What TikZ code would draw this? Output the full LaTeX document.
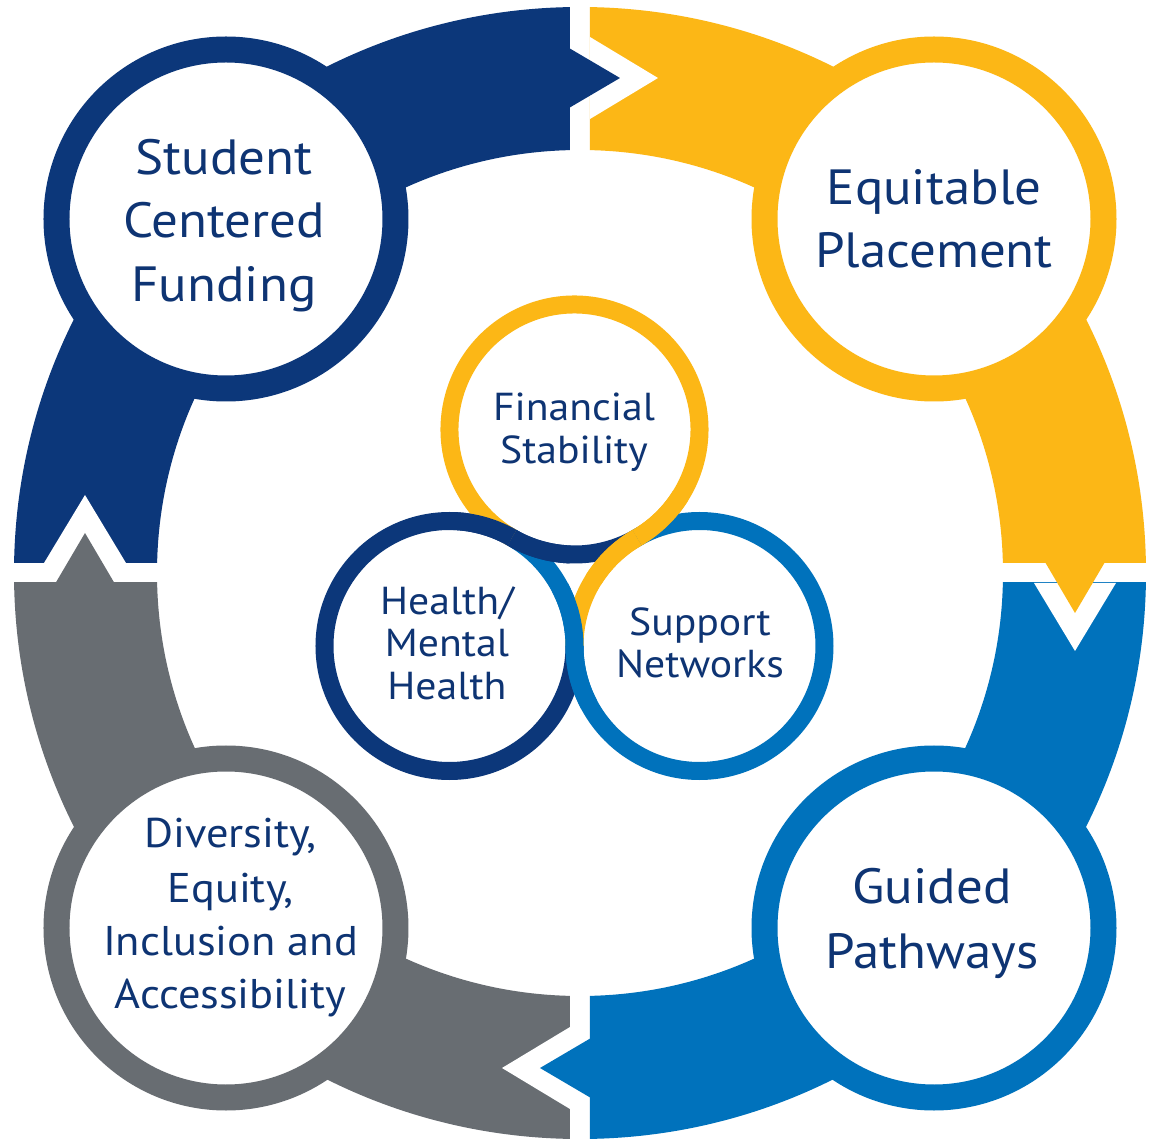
\documentclass[tikz,border=0pt]{standalone}
\usepackage{fontspec}
\setmainfont[FakeStretch=1.07]{PT Sans}
\definecolor{cnavy}{RGB}{12,55,122}
\definecolor{cyel}{RGB}{252,183,22}
\definecolor{cblue}{RGB}{0,114,188}
\definecolor{cgray}{RGB}{104,109,114}
\definecolor{ctext}{RGB}{14,52,115}
\begin{document}
\begin{tikzpicture}[x=1pt,y=1pt,
  bigc/.style={circle, line width=26pt, fill=white, minimum size=339pt, inner sep=0pt},
  lblbig/.style={text=ctext, anchor=base, inner sep=0pt, font=\fontsize{49.5}{56}\selectfont},
  lbldei/.style={text=ctext, anchor=base, inner sep=0pt, font=\fontsize{41.5}{50}\selectfont},
  lblsm/.style={text=ctext, anchor=base, inner sep=0pt, font=\fontsize{39}{46}\selectfont},
  ring/.style={line width=18pt}]
\useasboundingbox (-580,-567) rectangle (582,573);
\fill[white] (-580,-567) rectangle (582,573);
% ring sectors
\begin{scope}\clip (-10,10) rectangle (-600,600);
  \fill[cnavy,even odd rule] (0,0) circle[radius=566pt] (0,0) circle[radius=423pt];\end{scope}
\begin{scope}\clip (10,10) rectangle (600,600);
  \fill[cyel,even odd rule] (0,0) circle[radius=566pt] (0,0) circle[radius=423pt];\end{scope}
\begin{scope}\clip (10,-10) rectangle (600,-600);
  \fill[cblue,even odd rule] (0,0) circle[radius=566pt] (0,0) circle[radius=423pt];\end{scope}
\begin{scope}\clip (-10,-10) rectangle (-600,-600);
  \fill[cgray,even odd rule] (0,0) circle[radius=566pt] (0,0) circle[radius=423pt];\end{scope}
% arrowheads and notches
\foreach \r/\c in {0/cnavy,-90/cyel,-180/cblue,90/cgray}{
  \begin{scope}[rotate=\r]
    \fill[white] (10,536) -- (78,495) -- (10,454) -- cycle;
    \fill[\c] (-11,525) -- (40,495) -- (-11,465) -- cycle;
  \end{scope}}
% big circles
\node[bigc, draw=cnavy] (scf) at (-354,354) {};
\node[bigc, draw=cyel] (ep) at (354,354) {};
\node[bigc, draw=cblue] (gp) at (354,-355) {};
\node[bigc, draw=cgray] (dei) at (-354,-355) {};
\node[lblbig] (scf1) at (-356,398) {Student};
\node[lblbig] (scf2) at (-356,335) {Centered};
\node[lblbig] (scf3) at (-356,271) {Funding};
\node[lblbig] (ep1) at (354,368) {Equitable};
\node[lblbig] (ep2) at (354,305) {Placement};
\node[lblbig] (gp1) at (352,-330) {Guided};
\node[lblbig] (gp2) at (352,-395) {Pathways};
\node[lbldei] (dei1) at (-349.5,-274) {Diversity,};
\node[lbldei] (dei2) at (-349.5,-329) {Equity,};
\node[lbldei] (dei3) at (-349.5,-382) {Inclusion and};
\node[lbldei] (dei4) at (-349.5,-435) {Accessibility};
% central interlaced circles
\coordinate (H) at (-130.5,-73);
\coordinate (S) at (119.5,-73);
\coordinate (F) at (-5.5,143.5);
\draw[ring,cblue] (H) ++(60:125pt) arc[start angle=60,end angle=0,radius=125pt];
\draw[ring,cnavy] (H) ++(0:125pt) arc[start angle=0,end angle=-300,radius=125pt];
\draw[ring,cnavy] (F) ++(240:125pt) arc[start angle=240,end angle=300,radius=125pt];
\draw[ring,cyel] (F) ++(300:125pt) arc[start angle=300,end angle=600,radius=125pt];
\draw[ring,cyel] (S) ++(120:125pt) arc[start angle=120,end angle=180,radius=125pt];
\draw[ring,cblue] (S) ++(180:125pt) arc[start angle=180,end angle=480,radius=125pt];
% over strands
\draw[ring,cnavy] (H) ++(60:125pt) arc[start angle=60,end angle=88,radius=125pt];
\draw[ring,cnavy] (F) ++(240:125pt) arc[start angle=240,end angle=268,radius=125pt];
\draw[ring,cyel] (F) ++(300:125pt) arc[start angle=300,end angle=328,radius=125pt];
\draw[ring,cyel] (S) ++(120:125pt) arc[start angle=120,end angle=148,radius=125pt];
\draw[ring,cblue] (H) ++(0:125pt) arc[start angle=0,end angle=28,radius=125pt];
\draw[ring,cblue] (S) ++(180:125pt) arc[start angle=180,end angle=208,radius=125pt];
\node[lblsm] (fs1) at (-6,152) {Financial};
\node[lblsm] (fs2) at (-6,109) {Stability};
\node[lblsm] (hm1) at (-133,-42) {Health/};
\node[lblsm] (hm2) at (-133,-84) {Mental};
\node[lblsm] (hm3) at (-133,-127) {Health};
\node[lblsm] (sn1) at (120,-63) {Support};
\node[lblsm] (sn2) at (120,-105) {Networks};
\end{tikzpicture}
\end{document}
